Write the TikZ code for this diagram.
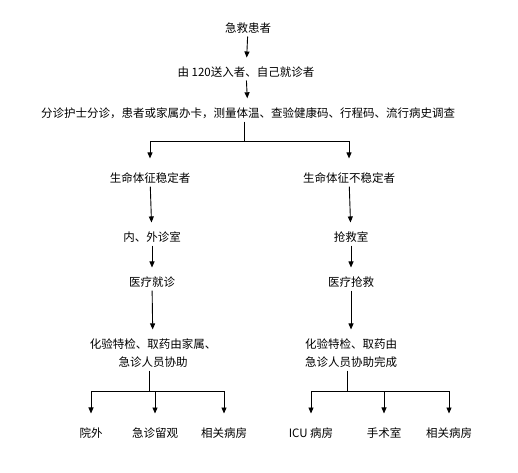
\documentclass[tikz,border=0pt]{standalone}
\usepackage{fontspec}
\newfontfamily\cjk{Noto Sans CJK SC}
\usetikzlibrary{arrows.meta}

\tikzset{
	txt/.style={inner sep=3pt, font=\cjk\fontsize{11.5}{18}\selectfont, align=center},
	flow/.style={-{Triangle[length=6pt,width=5pt]}, line width=0.9pt, shorten >=6pt},
	branch/.style={-{Triangle[length=6pt,width=5pt]}, line width=0.9pt, shorten >=11pt},
	stem/.style={line width=0.9pt}
}

\begin{document}
\begin{tikzpicture}[x=1pt, y=-1pt]
		\useasboundingbox (0,0) rectangle (518,472);

		\node[txt](patient) at (248,28){急救患者};
		\node[txt](arrival) at (246,72){由 120送入者、自己就诊者};
		\node[txt](triage) at (248,113){分诊护士分诊，患者或家属办卡，测量体温、查验健康码、行程码、流行病史调查};

		\node[txt](stable) at (150,178){生命体征稳定者};
		\node[txt](clinic) at (152,237){内、外诊室};
		\node[txt](treat) at (152,282){医疗就诊};
		\node[txt](assistA) at (153,353){化验特检、取药由家属、\\急诊人员协助};

		\node[txt](unstable) at (349,178){生命体征不稳定者};
		\node[txt](rescueRoom) at (351,237){抢救室};
		\node[txt](rescue) at (351,282){医疗抢救};
		\node[txt](assistB) at (351,353){化验特检、取药由\\急诊人员协助完成};

		\node[txt](outHosp) at (91,433){院外};
		\node[txt](observe) at (155,433){急诊留观};
		\node[txt](wardA) at (224,433){相关病房};
		\node[txt](icu) at (311,433){ICU 病房};
		\node[txt](surgery) at (384,433){手术室};
		\node[txt](wardB) at (449,433){相关病房};

		\coordinate (splitTop) at (244,141);
		\coordinate (splitA) at (149,391);
		\coordinate (splitB) at (347,391);

		\draw [flow] (patient) -- (arrival);
		\draw [flow] (arrival) -- (triage);
		\draw [stem] (triage.south -| splitTop) -- (splitTop);
		\draw [branch] (splitTop) -| (stable.north);
		\draw [branch] (splitTop) -| (unstable.north);

		\draw [flow] (stable) -- (clinic);
		\draw [flow] (clinic) -- (treat);
		\draw [flow] (treat) -- (assistA);
		\draw [flow] (unstable) -- (rescueRoom);
		\draw [flow] (rescueRoom) -- (rescue);
		\draw [flow] (rescue) -- (assistB);

		\draw [stem] (assistA.south -| splitA) -- (splitA);
		\draw [branch] (splitA) -| (outHosp.north);
		\draw [branch] (splitA) -| (observe.north);
		\draw [branch] (splitA) -| (wardA.north);
		\draw [stem] (assistB.south -| splitB) -- (splitB);
		\draw [branch] (splitB) -| (icu.north);
		\draw [branch] (splitB) -| (surgery.north);
		\draw [branch] (splitB) -| (wardB.north);

	\end{tikzpicture}
\end{document}
